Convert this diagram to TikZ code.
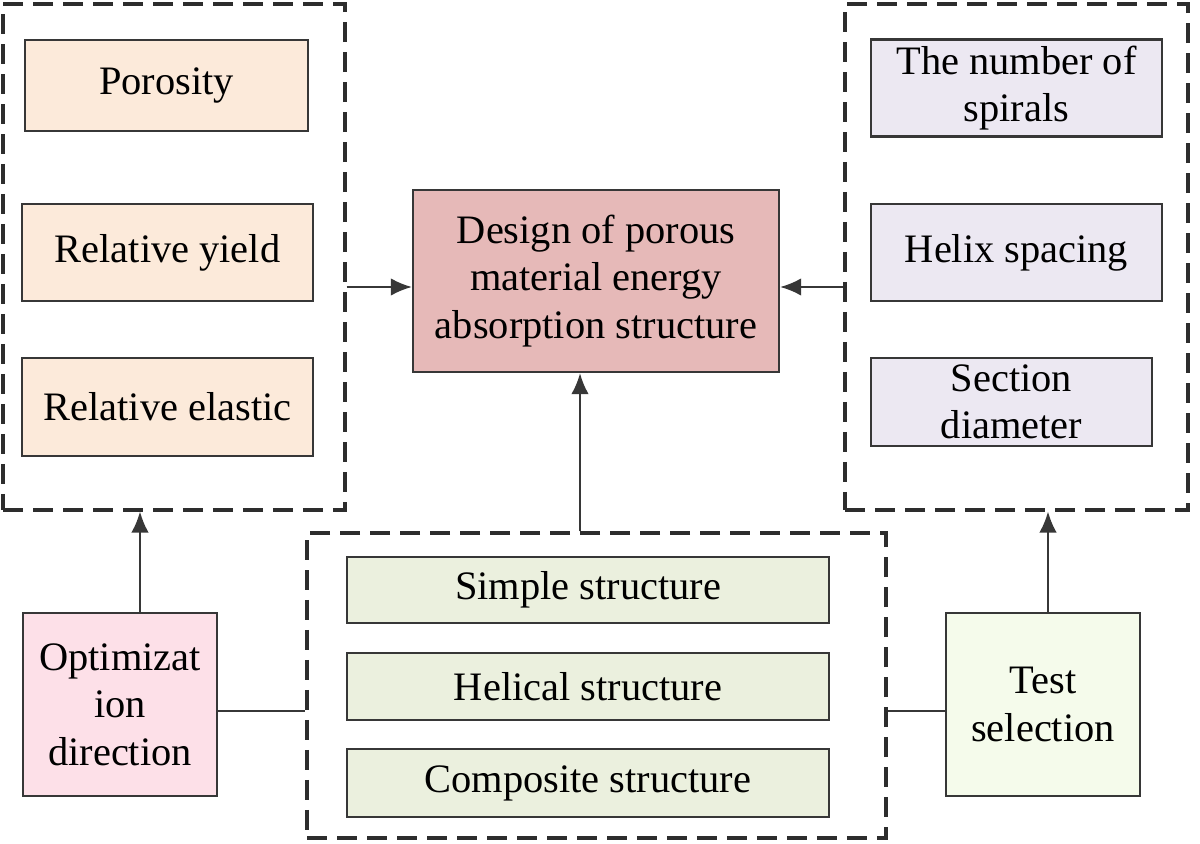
\documentclass[tikz,border=0pt]{standalone}
\usepackage{fontspec}
\setmainfont{Liberation Serif}
\usetikzlibrary{arrows.meta}
\definecolor{boxline}{RGB}{55,55,55}
\definecolor{grpline}{RGB}{45,45,45}
\definecolor{peach}{RGB}{252,234,218}
\definecolor{lilac}{RGB}{236,232,242}
\definecolor{rose}{RGB}{230,185,184}
\definecolor{sage}{RGB}{235,240,222}
\definecolor{blush}{RGB}{253,224,232}
\definecolor{mint}{RGB}{245,251,235}
\tikzset{>={Latex[length=12pt,width=10pt]}}
\tikzset{
  box/.style={draw=boxline, line width=1.3pt, inner sep=0pt, align=center,
    font=\fontsize{23}{27}\selectfont},
  grp/.style={draw=grpline, line width=1.8pt, dash pattern=on 0.4cm off 0.2cm},
  link/.style={draw=boxline, line width=1.3pt}
}

\begin{document}
\begin{tikzpicture}[x=0.02cm,y=-0.02cm]
        \useasboundingbox (0,0) rectangle (1200,844);

        \node[grp, minimum width=6.84cm, minimum height=10.12cm] (leftgrp) at (174,257) {};
        \node[grp, minimum width=6.86cm, minimum height=10.12cm] (rightgrp) at (1016.5,257) {};
        \node[grp, minimum width=11.58cm, minimum height=6.1cm] (midgrp) at (596.5,685.5) {};

        \node[box, fill=peach, minimum width=5.66cm, minimum height=1.82cm] (poro) at (166.5,85.5) {Porosity};
        \node[box, fill=peach, minimum width=5.82cm, minimum height=1.94cm] (yield) at (167.5,252.5) {Relative yield};
        \node[box, fill=peach, minimum width=5.82cm, minimum height=1.96cm] (elastic) at (167.5,407) {Relative elastic};

        \node[box, fill=lilac, minimum width=5.82cm, minimum height=1.94cm] (spirals) at (1016.5,88) {The number of\\spirals};
        \node[box, fill=lilac, minimum width=5.82cm, minimum height=1.94cm] (helix) at (1016.5,252.5) {Helix spacing};
        \node[box, fill=lilac, minimum width=5.62cm, minimum height=1.76cm] (section) at (1011.5,402) {Section\\diameter};

        \node[box, fill=rose, minimum width=7.32cm, minimum height=3.64cm] (design) at (596,281)
            {Design of porous\\material energy\\absorption structure};

        \node[box, fill=sage, minimum width=9.64cm, minimum height=1.32cm] (simple) at (588,590) {Simple structure};
        \node[box, fill=sage, minimum width=9.64cm, minimum height=1.34cm] (helical) at (588,686.5) {Helical structure};
        \node[box, fill=sage, minimum width=9.64cm, minimum height=1.36cm] (composite) at (588,783) {Composite structure};

        \node[box, fill=blush, minimum width=3.88cm, minimum height=3.66cm] (opt) at (120,704.5) {Optimizat\\ion\\direction};
        \node[box, fill=mint, minimum width=3.88cm, minimum height=3.66cm] (test) at (1043,704.5) {Test\\selection};

        \draw[link,->] ([yshift=-0.12cm]leftgrp.east |- design.west) -- ([yshift=-0.12cm]design.west);
        \draw[link,->] ([yshift=-0.12cm]rightgrp.west |- design.east) -- ([yshift=-0.12cm]design.east);
        \draw[link,->] ([xshift=-0.32cm]design.south |- midgrp.north) -- ([xshift=-0.32cm]design.south);
        \draw[link,->] ([xshift=0.4cm]opt.north) -- ([xshift=0.4cm]opt.north |- leftgrp.south);
        \draw[link,->] ([xshift=0.1cm]test.north) -- ([xshift=0.1cm]test.north |- rightgrp.south);
        \draw[link] ([yshift=-0.13cm]opt.east) -- ([yshift=-0.13cm]opt.east -| midgrp.west);
        \draw[link] ([yshift=-0.13cm]test.west) -- ([yshift=-0.13cm]test.west -| midgrp.east);
    \end{tikzpicture}
\end{document}
